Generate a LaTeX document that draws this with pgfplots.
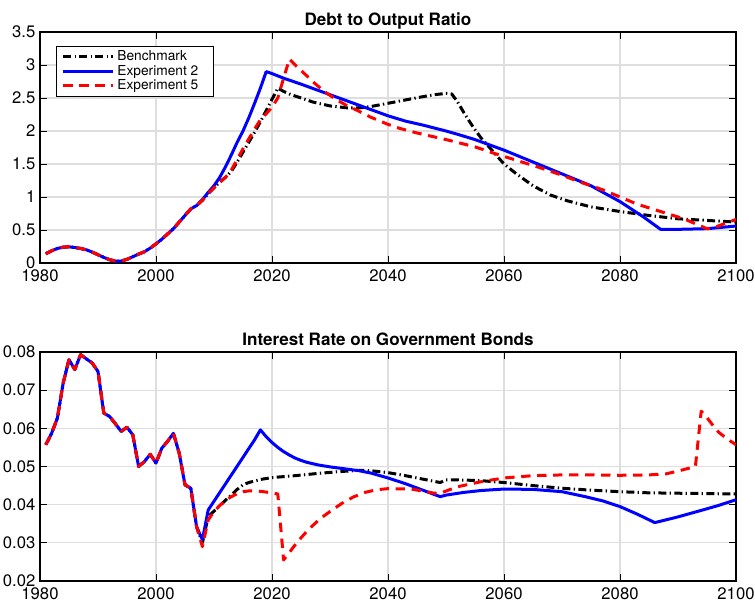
\documentclass[border=0pt]{standalone}
\usepackage{fontspec}
\setmainfont{TeX Gyre Heros}
\usepackage{pgfplots}
\pgfplotsset{compat=1.18}
\definecolor{gridgray}{RGB}{222,222,222}
\definecolor{mblue}{RGB}{0,0,255}
\definecolor{mred}{RGB}{255,0,0}
\pgfplotsset{
  common/.style={
    scale only axis, width=522pt,
    xmin=1980, xmax=2100, xtick={1980,2000,...,2100},
    tick align=inside, major tick length=5pt,
    grid=major, major grid style={gridgray, line width=0.8pt},
    axis line style={line width=0.9pt},
    tick style={black, line width=0.6pt},
    /pgf/number format/assume math mode=true,
    ticklabel style={font=\fontsize{12.5}{14}\selectfont},
    x tick label style={/pgf/number format/1000 sep={}, yshift=-1.5pt},
    title style={font=\bfseries\fontsize{12.8}{14}\selectfont, at={(0.5,1)}, anchor=south, text depth=0pt, yshift=-5pt},
    every axis plot/.append style={line width=2.25pt, line join=round},
  },
  bench/.style={black, dash pattern=on 6pt off 2.5pt on 1pt off 2.5pt},
  exp2/.style={mblue, solid},
  exp5/.style={mred, dash pattern=on 7pt off 5pt},
}
\begin{document}
\begin{tikzpicture}
\path[use as bounding box] (-30pt,-16.5pt) rectangle (536.25pt,435.75pt);
% Top axis
\begin{axis}[common, at={(0pt,238.5pt)}, anchor=south west, height=173.25pt,
  ymin=0, ymax=3.5, ytick={0,0.5,...,3.5},
  title={Debt to Output Ratio},
  legend style={at={(0.023,0.94)}, anchor=north west, draw=black, line width=0.6pt,
    font=\fontsize{10.3}{11}\selectfont, row sep=-2.2pt, inner xsep=4pt, inner ysep=1.5pt, cells={anchor=west}},
  legend image code/.code={\draw[#1] (0pt,0pt) -- (37.5pt,0pt);},
]
\addplot[bench] coordinates {(1981,0.14)(1982,0.185)(1983,0.22)(1984,0.24)(1985,0.245)(1986,0.235)(1987,0.22)(1988,0.20)(1989,0.165)(1990,0.125)(1991,0.085)(1992,0.05)(1993,0.03)(1994,0.03)(1995,0.055)(1996,0.095)(1997,0.135)(1998,0.17)(1999,0.225)(2000,0.29)(2001,0.36)(2002,0.44)(2003,0.52)(2004,0.62)(2005,0.72)(2006,0.82)(2007,0.87)(2008,0.95)(2009,1.05)(2010,1.14)(2011,1.23)(2012,1.30)(2013,1.39)(2014,1.53)(2015,1.68)(2016,1.83)(2017,1.98)(2018,2.14)(2019,2.31)(2020,2.48)(2021,2.65)(2022,2.60)(2023,2.56)(2025,2.50)(2027,2.44)(2030,2.38)(2033,2.35)(2035,2.35)(2037,2.37)(2040,2.42)(2043,2.47)(2046,2.52)(2048,2.55)(2050,2.57)(2051,2.56)(2052,2.44)(2053,2.29)(2054,2.15)(2055,2.02)(2056,1.90)(2057,1.80)(2058,1.70)(2059,1.60)(2060,1.50)(2062,1.36)(2065,1.17)(2068,1.03)(2071,0.94)(2075,0.85)(2080,0.78)(2085,0.72)(2090,0.67)(2095,0.645)(2100,0.62)};
\addlegendentry{Benchmark\hspace*{5pt}}
\addplot[exp2] coordinates {(1981,0.14)(1982,0.185)(1983,0.22)(1984,0.24)(1985,0.245)(1986,0.235)(1987,0.22)(1988,0.20)(1989,0.165)(1990,0.125)(1991,0.085)(1992,0.05)(1993,0.03)(1994,0.03)(1995,0.055)(1996,0.095)(1997,0.135)(1998,0.17)(1999,0.225)(2000,0.29)(2001,0.36)(2002,0.44)(2003,0.52)(2004,0.62)(2005,0.72)(2006,0.82)(2007,0.87)(2008,0.96)(2009,1.07)(2010,1.17)(2011,1.30)(2012,1.46)(2013,1.64)(2014,1.83)(2015,2.00)(2016,2.20)(2017,2.42)(2018,2.65)(2019,2.90)(2020,2.87)(2022,2.80)(2025,2.71)(2030,2.55)(2035,2.39)(2040,2.23)(2043,2.15)(2046,2.09)(2050,2.00)(2052,1.95)(2055,1.87)(2060,1.71)(2065,1.53)(2070,1.35)(2075,1.17)(2080,0.93)(2084,0.70)(2087,0.51)(2090,0.51)(2095,0.52)(2100,0.56)};
\addlegendentry{Experiment 2\hspace*{5pt}}
\addplot[exp5] coordinates {(1981,0.14)(1982,0.185)(1983,0.22)(1984,0.24)(1985,0.245)(1986,0.235)(1987,0.22)(1988,0.20)(1989,0.165)(1990,0.125)(1991,0.085)(1992,0.05)(1993,0.03)(1994,0.03)(1995,0.055)(1996,0.095)(1997,0.135)(1998,0.17)(1999,0.225)(2000,0.29)(2001,0.36)(2002,0.44)(2003,0.52)(2004,0.62)(2005,0.72)(2006,0.82)(2007,0.87)(2008,0.95)(2009,1.05)(2010,1.14)(2011,1.22)(2012,1.30)(2013,1.41)(2014,1.57)(2015,1.73)(2016,1.88)(2017,2.03)(2018,2.17)(2019,2.26)(2020,2.36)(2021,2.50)(2022,2.80)(2023,3.09)(2024,3.00)(2025,2.92)(2027,2.75)(2029,2.60)(2031,2.48)(2033,2.38)(2035,2.30)(2037,2.21)(2040,2.10)(2042,2.04)(2045,1.97)(2050,1.87)(2055,1.76)(2058,1.67)(2062,1.56)(2066,1.45)(2070,1.33)(2073,1.23)(2077,1.11)(2080,1.00)(2083,0.89)(2087,0.78)(2091,0.67)(2095,0.52)(2096,0.53)(2100,0.66)};
\addlegendentry{Experiment 5\hspace*{5pt}}
\end{axis}
% Bottom axis
\begin{axis}[common, at={(0pt,0pt)}, anchor=south west, height=171.75pt,
  ymin=0.02, ymax=0.08, ytick={0.02,0.03,...,0.08},
  scaled y ticks=false,
  yticklabel style={/pgf/number format/fixed, /pgf/number format/precision=2, /pgf/number format/fixed zerofill},
  title={Interest Rate on Government Bonds},
]
\addplot[bench] coordinates {(1981,0.0557)(1982,0.0587)(1983,0.0627)(1984,0.0719)(1985,0.0780)(1986,0.0754)(1987,0.0793)(1988,0.0782)(1989,0.0771)(1990,0.0749)(1991,0.0640)(1992,0.0631)(1993,0.0612)(1994,0.0592)(1995,0.0603)(1996,0.0583)(1997,0.0500)(1998,0.0513)(1999,0.0532)(2000,0.0509)(2001,0.0548)(2002,0.0566)(2003,0.0587)(2004,0.0535)(2005,0.0452)(2006,0.0443)(2007,0.0342)(2008,0.0300)(2009,0.0369)(2010,0.0383)(2011,0.0397)(2012,0.0412)(2013,0.0425)(2014,0.0440)(2015,0.0452)(2016,0.0458)(2017,0.0462)(2018,0.0466)(2020,0.0471)(2024,0.0476)(2028,0.0482)(2032,0.0487)(2035,0.0490)(2037,0.0489)(2040,0.0484)(2043,0.0476)(2046,0.0467)(2049,0.0458)(2050,0.0465)(2052,0.0465)(2056,0.0463)(2060,0.0458)(2065,0.0450)(2070,0.0443)(2075,0.0438)(2080,0.0434)(2085,0.0431)(2090,0.0430)(2095,0.0429)(2100,0.0428)};
\addplot[exp2] coordinates {(1981,0.0557)(1982,0.0587)(1983,0.0627)(1984,0.0719)(1985,0.0780)(1986,0.0754)(1987,0.0793)(1988,0.0782)(1989,0.0771)(1990,0.0749)(1991,0.0640)(1992,0.0631)(1993,0.0612)(1994,0.0592)(1995,0.0603)(1996,0.0583)(1997,0.0500)(1998,0.0513)(1999,0.0532)(2000,0.0509)(2001,0.0548)(2002,0.0566)(2003,0.0587)(2004,0.0535)(2005,0.0452)(2006,0.0443)(2007,0.0342)(2008,0.0308)(2009,0.0386)(2010,0.0409)(2011,0.0432)(2012,0.0455)(2013,0.0478)(2014,0.0501)(2015,0.0524)(2016,0.0547)(2017,0.0570)(2018,0.0596)(2019,0.0578)(2020,0.0563)(2021,0.0550)(2022,0.0539)(2023,0.0530)(2024,0.0522)(2025,0.0516)(2026,0.0511)(2028,0.0504)(2030,0.0499)(2033,0.0493)(2035,0.0489)(2037,0.0483)(2040,0.0470)(2043,0.0455)(2046,0.0438)(2049,0.0421)(2050,0.0425)(2053,0.0432)(2056,0.0437)(2060,0.0441)(2065,0.0440)(2070,0.0434)(2074,0.0421)(2077,0.0410)(2080,0.0395)(2083,0.0375)(2086,0.0353)(2090,0.0368)(2094,0.0385)(2097,0.0398)(2100,0.0413)};
\addplot[exp5] coordinates {(1981,0.0557)(1982,0.0587)(1983,0.0627)(1984,0.0719)(1985,0.0780)(1986,0.0754)(1987,0.0793)(1988,0.0782)(1989,0.0771)(1990,0.0749)(1991,0.0640)(1992,0.0631)(1993,0.0612)(1994,0.0592)(1995,0.0603)(1996,0.0583)(1997,0.0500)(1998,0.0513)(1999,0.0532)(2000,0.0509)(2001,0.0548)(2002,0.0566)(2003,0.0587)(2004,0.0535)(2005,0.0452)(2006,0.0443)(2007,0.0342)(2008,0.0290)(2009,0.0360)(2010,0.0382)(2011,0.0398)(2012,0.0412)(2013,0.0421)(2014,0.0429)(2015,0.0434)(2016,0.0436)(2017,0.0436)(2018,0.0435)(2019,0.0433)(2020,0.0431)(2021,0.0428)(2022,0.0255)(2023,0.0275)(2024,0.0295)(2025,0.0313)(2026,0.0330)(2027,0.0345)(2028,0.0359)(2029,0.0371)(2030,0.0382)(2032,0.0403)(2034,0.0420)(2036,0.0432)(2038,0.0439)(2040,0.0442)(2044,0.0441)(2048,0.0430)(2049,0.0430)(2052,0.0447)(2056,0.0460)(2060,0.0470)(2065,0.0476)(2070,0.0478)(2075,0.0478)(2080,0.0477)(2085,0.0478)(2088,0.0481)(2090,0.0488)(2092,0.0496)(2093,0.0500)(2094,0.0645)(2095,0.0628)(2096,0.0608)(2097,0.0590)(2098,0.0578)(2099,0.0567)(2100,0.0557)};
\end{axis}
\end{tikzpicture}
\end{document}
